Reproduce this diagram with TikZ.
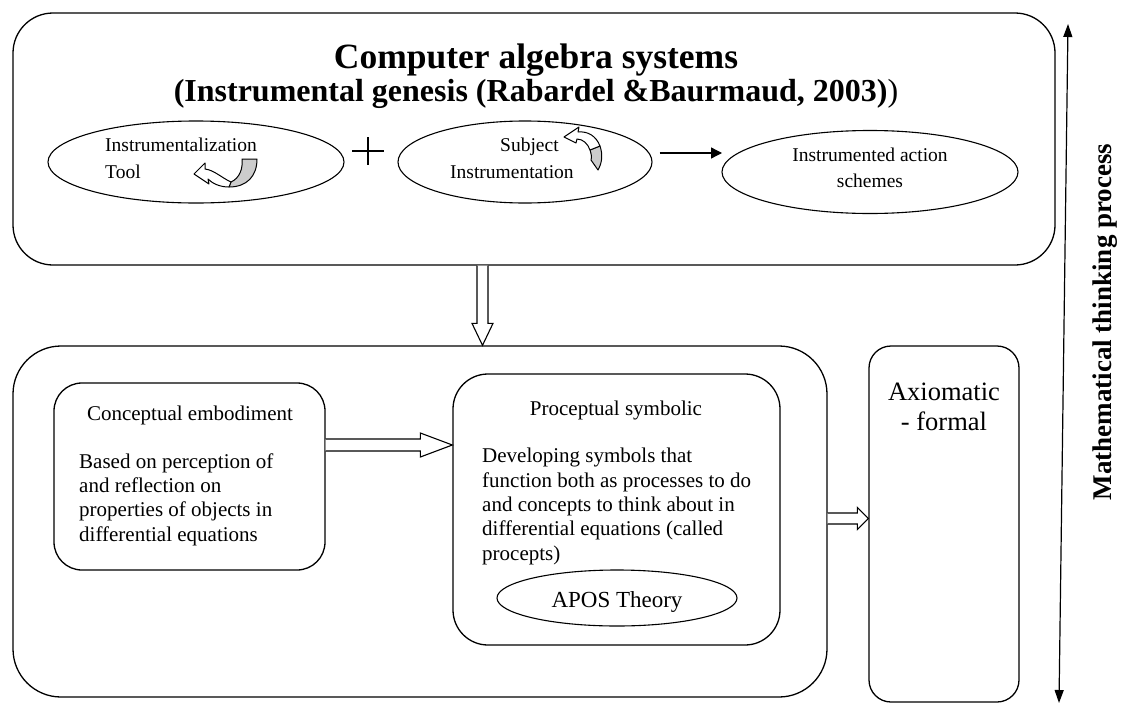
\documentclass[tikz,border=0pt]{standalone}
\usepackage{fontspec}
\setmainfont{Liberation Serif}
\usetikzlibrary{arrows.meta,calc,shapes.geometric}
\begin{document}
\begin{tikzpicture}[x=1pt,y=-1pt,
  frame/.style={draw, line width=1.3pt, rounded corners=#1, inner sep=0pt},
  oval/.style={draw, ellipse, line width=1.1pt, inner sep=0pt},
  ovaltxt/.style={inner sep=0pt, font=\fontsize{19.5pt}{26.5pt}\selectfont},
  bodytxt/.style={inner sep=0pt, align=left, font=\fontsize{21pt}{24.3pt}\selectfont},
  headtxt/.style={inner sep=0pt, anchor=base, font=\fontsize{21pt}{24.3pt}\selectfont},
  hollow/.style={draw, line width=1.1pt, fill=white, line join=miter},
  solidarrow/.style={draw, line width=1.3pt, -{Triangle[length=11pt,width=11pt]}},
  icon/.style={draw, line width=1pt, line join=round}
]
\useasboundingbox (0,0) rectangle (1121,704);

% ---------- upper panel: instrumental genesis ----------
% (multi-line nodes are placed by the baseline of their last line)
\node[frame=40pt, minimum width=1042pt, minimum height=252pt] (cas) at (534,139) {};
\node[inner sep=0pt, anchor=base, font=\bfseries\fontsize{35.5pt}{37pt}\selectfont] (title1) at (536,68) {Computer algebra systems};
\node[inner sep=0pt, anchor=base, font=\bfseries\fontsize{32pt}{34pt}\selectfont] (title2) at (536,101) {(Instrumental genesis (Rabardel \&Baurmaud, 2003)\textmd{)}};

\node[oval, minimum width=296pt, minimum height=82pt] (instz) at (196,162) {};
\node[ovaltxt, align=left, anchor=base west] (instztxt) at (105,178) {Instrumentalization\\Tool};

\node[oval, minimum width=254pt, minimum height=82pt] (instm) at (525,162) {};
\node[ovaltxt, align=left, anchor=base west] (instmtxt) at (450,178) {\hspace*{50pt}Subject\\Instrumentation};

\node[oval, minimum width=296pt, minimum height=83pt] (schemes) at (870,172) {};
\node[ovaltxt, align=center, anchor=base] (schemestxt) at (870,187.5) {Instrumented action\\schemes};

% plus sign between the two geneses
\coordinate (plus) at (368,151);
\draw[line width=1.1pt] ($(plus)+(-16,0)$) -- ($(plus)+(16,0)$);
\draw[line width=1.1pt] ($(plus)+(0,-14)$) -- ($(plus)+(0,14)$);

% arrow to the instrumented action schemes
\coordinate (sa) at ($(instm.east)+(7,-9)$);
\coordinate (sb) at (722,153);
\draw[solidarrow] (sa) -- (sb);

% curved arrow icon (instrumentalization)
\draw[icon, fill=gray!40] (242,159) -- (257,159) .. controls (257,176) and (247,187) .. (229,187) -- (231,182) .. controls (240,178) and (243,168) .. (242,159) -- cycle;
\draw[icon, fill=white] (194,174) -- (205,163) -- (205,169) .. controls (214,170) and (222,178) .. (231,182) -- (229,187) .. controls (219,187) and (212,183) .. (208,179) -- (209,184) -- cycle;

% curved arrow icon (instrumentation)
\draw[icon, fill=gray!40] (590,150) -- (600,146) .. controls (603,155) and (602,163) .. (598,170) -- (591,160) .. controls (592,157) and (591,153) .. (590,150) -- cycle;
\draw[icon, fill=white] (600,146) .. controls (596,136) and (588,131) .. (578,132) -- (579,127) -- (564,137) -- (576,143) -- (577,139) .. controls (583,139) and (588,144) .. (590,150) -- cycle;

% ---------- lower panel: three worlds ----------
\node[frame=48pt, minimum width=814pt, minimum height=351pt] (low) at (420,521.5) {};

\node[frame=28pt, minimum width=271pt, minimum height=187pt] (ce) at (189.5,476.5) {};
\node[headtxt] (cehead) at (190,420) {Conceptual embodiment};
\node[bodytxt, anchor=base west] (cebody) at (79,541) {Based on perception of\\and reflection on\\properties of objects in\\differential equations};

\node[frame=35pt, minimum width=327pt, minimum height=271pt] (ps) at (616.5,509.5) {};
\node[headtxt] (pshead) at (616,415) {Proceptual symbolic};
\node[bodytxt, anchor=base west] (psbody) at (482,560) {Developing symbols that\\function both as processes to do\\and concepts to think about in\\differential equations (called\\procepts)};
\node[oval, minimum width=240pt, minimum height=56pt] (apos) at (617,598) {};
\node[inner sep=0pt, anchor=base, font=\fontsize{23pt}{26pt}\selectfont] (apostxt) at (617,607) {APOS Theory};

\node[frame=22pt, minimum width=150pt, minimum height=356pt] (ax) at (944,524) {};
\node[inner sep=0pt, anchor=base, align=center, font=\fontsize{26.5pt}{30pt}\selectfont] (axtxt) at (944,430) {Axiomatic\\- formal};

% hollow arrow: upper panel down to lower panel
\coordinate (dtop) at ($(cas.south)+(-51.5,0)$);
\coordinate (dtip) at (dtop |- low.north);
\draw[hollow] ($(dtop)+(-5.5,0)$) -- ($(dtip)+(-5.5,-22)$) -- ($(dtip)+(-10.5,-22)$) -- (dtip)
  -- ($(dtip)+(10.5,-22)$) -- ($(dtip)+(5.5,-22)$) -- ($(dtop)+(5.5,0)$);

% hollow arrow: conceptual embodiment to proceptual symbolic
\coordinate (rtail) at ($(ce.east)+(0,-31.5)$);
\coordinate (rtip) at (rtail -| ps.west);
\draw[hollow] ($(rtail)+(0,-6)$) -- ($(rtip)+(-32,-6)$) -- ($(rtip)+(-32,-12)$) -- (rtip)
  -- ($(rtip)+(-32,12)$) -- ($(rtip)+(-32,6)$) -- ($(rtail)+(0,6)$);

% hollow arrow: lower panel to axiomatic formal
\coordinate (ftail) at ($(low.east)+(0,-3)$);
\coordinate (ftip) at (ftail -| ax.west);
\draw[hollow] ($(ftail)+(0,-5.5)$) -- ($(ftip)+(-11,-5.5)$) -- ($(ftip)+(-11,-11)$) -- (ftip)
  -- ($(ftip)+(-11,11)$) -- ($(ftip)+(-11,5.5)$) -- ($(ftail)+(0,5.5)$);

% ---------- mathematical thinking axis ----------
\coordinate (mtop) at (1068,24);
\coordinate (mbot) at (1059,703);
\draw[line width=1.2pt, {Triangle[length=13pt,width=9pt]}-{Triangle[length=13pt,width=9pt]}] (mbot) -- (mtop);
\node[rotate=90, inner sep=0pt, font=\bfseries\fontsize{27pt}{30pt}\selectfont] (mtp) at (1105,322) {Mathematical thinking process};

\end{tikzpicture}
\end{document}
